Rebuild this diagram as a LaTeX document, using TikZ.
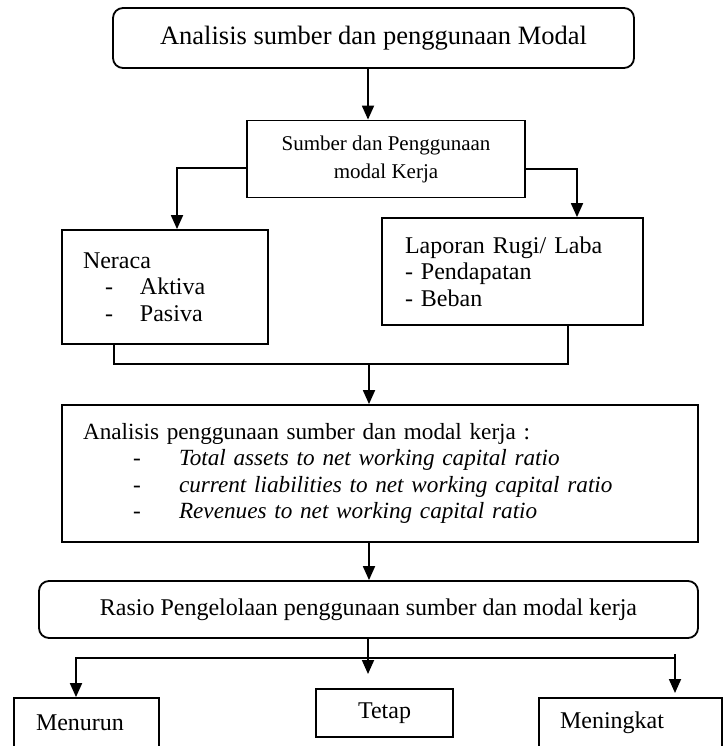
\documentclass[tikz,border=0pt]{standalone}
\usepackage{fontspec}
\setmainfont{Liberation Serif}
\usetikzlibrary{arrows.meta}

\begin{document}
\begin{tikzpicture}[x=1pt, y=-1pt, line width=1.8pt, >={Triangle[length=14pt,width=12pt]},
  box/.style={draw, rectangle, inner sep=0pt, font=\fontsize{24}{26.5}\selectfont},
  round box/.style={box, rounded corners=10pt},
  left box/.style={box, align=left}]
\useasboundingbox (0,0) rectangle (727,746);
\clip (0,0) rectangle (727,746);

\node [round box, minimum width=521pt, minimum height=60pt, font=\fontsize{26.5}{30}\selectfont] (judul) at (373.5,38) {Analisis sumber dan penggunaan Modal};
\node [box, align=center, minimum width=278pt, minimum height=77pt, font=\fontsize{21}{28}\selectfont] (sumber) at (386,159) {Sumber dan Penggunaan\\modal Kerja};
\node [left box, text width=164pt, inner xsep=21pt, minimum height=114pt] (neraca) at (165,287) {Neraca\\
  \hspace*{22pt}\makebox[35pt][l]{-}Aktiva\\
  \hspace*{22pt}\makebox[35pt][l]{-}Pasiva};
\node [left box, text width=215pt, inner xsep=23pt, minimum height=107pt] (laporan) at (512.5,271.5) {Laporan Rugi/ Laba\\- Pendapatan\\- Beban};
\node [left box, text width=594pt, inner xsep=21pt, minimum height=137pt, font=\fontsize{23.2}{26.3}\selectfont] (analisis) at (380,473.5) {Analisis penggunaan sumber dan modal kerja :\\
  \hspace*{50pt}\makebox[46pt][l]{-}\textit{Total assets to net working capital ratio}\\
  \hspace*{50pt}\makebox[46pt][l]{-}\textit{current liabilities to net working capital ratio}\\
  \hspace*{50pt}\makebox[46pt][l]{-}\textit{Revenues to net working capital ratio}};
\node [round box, minimum width=659pt, minimum height=57pt] (rasio) at (368.5,609.5) {Rasio Pengelolaan penggunaan sumber dan modal kerja};
\node [left box, text width=101pt, inner xsep=22pt, minimum height=50pt] (menurun) at (86.5,723) {Menurun};
\node [box, minimum width=137pt, minimum height=48pt] (tetap) at (384.5,713) {Tetap};
\node [left box, text width=141pt, inner xsep=21pt, minimum height=50pt] (meningkat) at (630.5,723) {Meningkat};

\coordinate (gabung) at (369,364);
\coordinate (cabang) at (368,658);
\coordinate (ujungtengah) at (368,674);
\coordinate (pangkalkanan) at (675,654);
\coordinate (ujungkanan) at (675,693);

\draw [->] ([xshift=-5.5pt]judul.south) -- ([xshift=-5.5pt]judul.south |- sumber.north);
\draw [->] ([yshift=-9pt]sumber.west) -| ([xshift=12pt]neraca.north);
\draw [->] ([yshift=-10pt]sumber.east) -| ([xshift=64.5pt]laporan.north);
\draw ([xshift=-51pt]neraca.south) |- (gabung) -| ([xshift=55.5pt]laporan.south);
\draw [->] (gabung) -- (gabung |- analisis.north);
\draw [->] ([xshift=-11pt]analisis.south) -- ([xshift=-11pt]analisis.south |- rasio.north);
\draw [->] (cabang |- rasio.south) -- (ujungtengah);
\draw [->] (cabang) -| ([xshift=-10.5pt]menurun.north);
\draw (cabang) -- (cabang -| ujungkanan);
\draw [->] (pangkalkanan) -- (ujungkanan);
\end{tikzpicture}
\end{document}
